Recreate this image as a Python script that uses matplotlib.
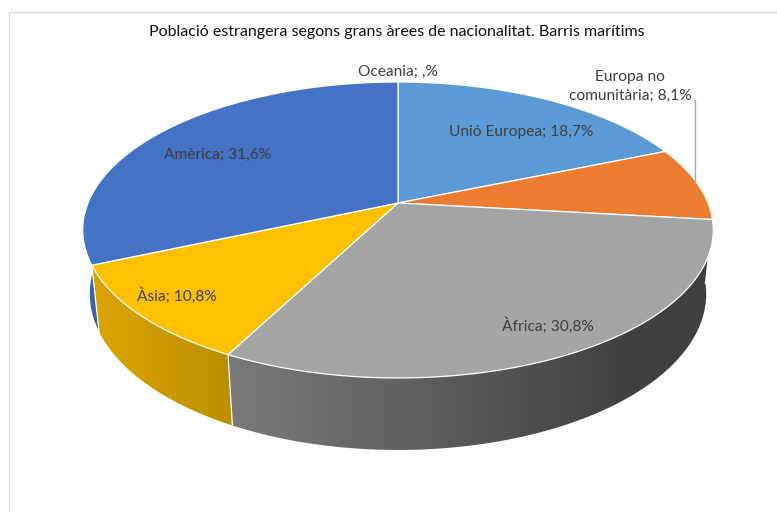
import numpy as np
import matplotlib
matplotlib.use("Agg")
import matplotlib.pyplot as plt
from matplotlib.patches import Polygon
from matplotlib.colors import to_rgb

# ---- data ----
title = "Població estrangera segons grans àrees de nacionalitat. Barris marítims"
categories = ["Unió Europea", "Europa no\ncomunitària", "Àfrica", "Àsia", "Amèrica", "Oceania"]
values = [18.7, 8.1, 30.8, 10.8, 31.6, 0.0]
value_labels = ["18,7%", "8,1%", "30,8%", "10,8%", "31,6%", ",%"]
colors = ["#5B9BD5", "#ED7D31", "#A5A5A5", "#FFC000", "#4472C4", "#70AD47"]

# ---- layout / projection parameters ----
W, H = 777, 512
cx, cy = 398.0, 203.0
f = 1508.0
D = 4.865
phi = np.arcsin(0.4615)
depth = 0.234

def proj(theta, r=1.0, h=0.0):
    u = r * np.sin(theta)
    v = r * np.cos(theta)
    wy = v * np.sin(phi) - h * np.cos(phi)
    z = v * np.cos(phi) + h * np.sin(phi)
    sx = cx + f * u / (D + z)
    sy = cy - f * wy / (D + z)
    return sx, sy

fig = plt.figure(figsize=(W / 100, H / 100), dpi=100)
ax = fig.add_axes([0, 0, 1, 1])
ax.set_xlim(0, W)
ax.set_ylim(H, 0)
ax.axis("off")

# chart border
ax.plot([8.5, 8.5, W], [H, 11.5, 11.5], color="#D9D9D9", lw=1.0, zorder=1)

total = sum(values)
bounds = np.concatenate([[0], np.cumsum(values)]) / total * 2 * np.pi

def shade_factor(x):
    return np.clip(0.86 - (x - 95) * 0.00088, 0.39, 1.0)

xs = np.arange(W) + 0.5
walls = []
for i, (a0, a1) in enumerate(zip(bounds[:-1], bounds[1:])):
    if a1 - a0 <= 0:
        continue
    th = np.linspace(a0, a1, 200)
    tx, ty = proj(th)
    bx, by = proj(th[::-1], h=depth)
    pts = np.column_stack([np.concatenate([tx, bx]), np.concatenate([ty, by])])
    meanz = np.mean(np.cos(th))
    walls.append((meanz, i, pts))

walls.sort(key=lambda w: -w[0])
for _, i, pts in walls:
    poly = Polygon(pts, closed=True, facecolor="none", edgecolor="none")
    ax.add_patch(poly)
    base = np.array(to_rgb(colors[i]))
    fac = shade_factor(xs)
    img = (base[None, :] * fac[:, None])[None, :, :]
    im = ax.imshow(img, extent=[0, W, H, 0], aspect="auto", zorder=2,
                   interpolation="bilinear")
    im.set_clip_path(poly)

# white separators on visible walls
for a in bounds[:-1]:
    if np.cos(a) < 0:
        x0, y0 = proj(a)
        x1, y1 = proj(a, h=depth)
        ax.plot([x0, x1], [y0, y1], color="white", lw=0.9, zorder=3)

# top faces
for i, (a0, a1) in enumerate(zip(bounds[:-1], bounds[1:])):
    if a1 - a0 <= 0:
        continue
    th = np.linspace(a0, a1, 200)
    tx, ty = proj(th)
    pts = np.column_stack([np.concatenate([[cx], tx]), np.concatenate([[cy], ty])])
    ax.add_patch(Polygon(pts, closed=True, facecolor=colors[i], edgecolor="white",
                         lw=0.9, zorder=4, joinstyle="round"))

# labels
font = "Lato"
lab_col = "#404040"
label_pos = [(521, 132), (630, 86), (548, 326), (177, 296), (218, 155), (398, 72)]
for name, vl, (lx, ly) in zip(categories, value_labels, label_pos):
    ax.text(lx, ly, f"{name}; {vl}", ha="center", va="center", fontsize=11.2,
            color=lab_col, family=font, zorder=6, linespacing=1.45)

# leader line for Europa no comunitària
ax.plot([694.5, 694.5], [100, 183], color="#A6A6A6", lw=1.0, zorder=5)

ax.text(397, 32, title, ha="center", va="center", fontsize=11.5, color="#111111",
        family=font, zorder=6)

fig.savefig("out.png", dpi=100)
